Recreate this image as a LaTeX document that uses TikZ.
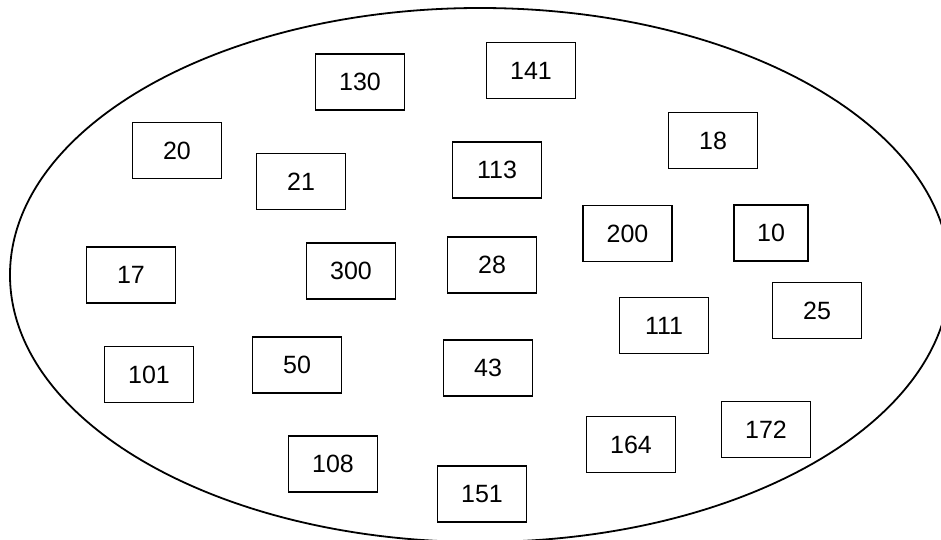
\documentclass[tikz,border=0pt]{standalone}
\usepackage{fontspec}
\setmainfont{Liberation Sans}
\begin{document}
\begin{tikzpicture}[x=1pt,y=-1pt,
  numbox/.style={draw=black,line width=1.8pt,fill=white,minimum width=89pt,minimum height=56pt,inner sep=0pt,font=\fontsize{25}{29}\selectfont},
  narrowbox/.style={numbox,minimum width=74pt},
  boundary/.style={draw=black,line width=1.8pt}]
\useasboundingbox (0,0) rectangle (941,540);
\clip (0,0) rectangle (941,540);
\fill[white] (0,0) rectangle (941,540);
\draw[boundary] (480,275) ellipse [x radius=470, y radius=267];
\node[numbox] (n130) at (360,82) {130};
\node[numbox] (n141) at (531,70.5) {141};
\node[numbox] (n20) at (177,150.5) {20};
\node[numbox] (n21) at (301,181.5) {21};
\node[numbox] (n113) at (497,170) {113};
\node[numbox] (n18) at (713,140.5) {18};
\node[numbox] (n200) at (627.5,233.5) {200};
\node[narrowbox] (n10) at (771,233) {10};
\node[numbox] (n17) at (131,275) {17};
\node[numbox] (n300) at (351,271) {300};
\node[numbox] (n28) at (492,265) {28};
\node[numbox] (n25) at (817,310.5) {25};
\node[numbox] (n111) at (664,325.5) {111};
\node[numbox] (n101) at (149,374.5) {101};
\node[numbox] (n50) at (297,365) {50};
\node[numbox] (n43) at (488,368) {43};
\node[numbox] (n164) at (631,444.5) {164};
\node[numbox] (n172) at (766,429.5) {172};
\node[numbox] (n108) at (333,464) {108};
\node[numbox] (n151) at (482,494) {151};
\end{tikzpicture}
\end{document}
